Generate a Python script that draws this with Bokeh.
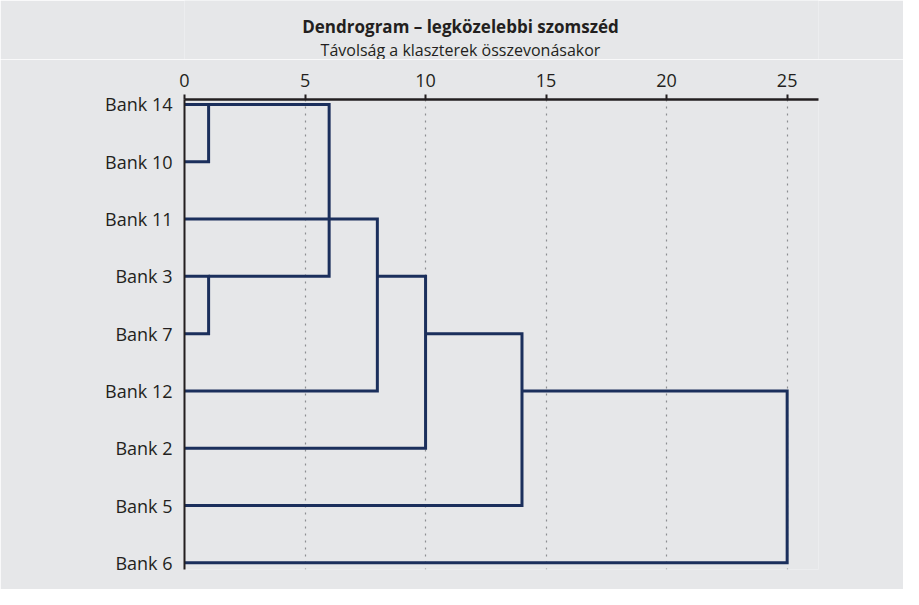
from bokeh.plotting import figure
from bokeh.models import Range1d, FixedTicker
from bokeh.layouts import column
from bokeh.core.properties import value
from bokeh.embed import file_html
from bokeh.resources import INLINE

# ---- data ----
bank_labels = ["Bank 14", "Bank 10", "Bank 11", "Bank 3", "Bank 7",
               "Bank 12", "Bank 2", "Bank 5", "Bank 6"]
distance_ticks = [0, 5, 10, 15, 20, 25]
# each merge: rows joined, merge distance, and where the horizontal arm starts
merge_top_row = [0, 3, 0, 2, 3, 4, 5]
merge_bottom_row = [1, 4, 3, 5, 6, 7, 8]
merge_distance = [1, 1, 6, 8, 10, 14, 25]
merge_top_start = [0, 0, 1, 0, 8, 10, 14]
merge_bottom_start = [0, 0, 1, 0, 0, 0, 0]
title_text = "Dendrogram – legközelebbi szomszéd"
subtitle_text = "Távolság a klaszterek összevonásakor"

FONT = "Open Sans"
BG = "#e6e7e9"
INK = "#231f20"
NAVY = "#1b2f5c"
W = 903
TOP_H = 59
LEFT = 184
RIGHT = 85

# ---- heading strip (titles); its frame lines up with the chart frame ----
h = figure(width=W, height=TOP_H, output_backend="svg", toolbar_location=None,
           x_range=Range1d(LEFT, W - RIGHT), y_range=Range1d(TOP_H, 0),
           x_axis_location=None, y_axis_location=None,
           min_border_left=LEFT, min_border_right=RIGHT,
           min_border_top=0, min_border_bottom=0)
h.background_fill_color = BG
h.border_fill_color = BG
h.outline_line_color = None
h.grid.visible = False
h.text(x=[460], y=[26], text=[title_text], text_align="center",
       text_baseline="alphabetic", text_font=value(FONT),
       text_font_style="bold", text_font_size="17px", text_color=INK)
h.text(x=[460], y=[49], text=[subtitle_text], text_align="center",
       text_baseline="alphabetic", text_font=value(FONT),
       text_font_size="16px", text_color=INK)

# ---- dendrogram ----
p = figure(width=W, height=589 - TOP_H, output_backend="svg",
           toolbar_location=None,
           x_range=Range1d(0, 26.3), y_range=Range1d(8.117, -0.087),
           x_axis_location="above",
           min_border_left=LEFT, min_border_right=RIGHT,
           min_border_top=99 - TOP_H, min_border_bottom=20)
p.background_fill_color = BG
p.border_fill_color = BG
p.outline_line_color = None

xs, ys = [], []
for rt, rb, d, ft, fb in zip(merge_top_row, merge_bottom_row, merge_distance,
                             merge_top_start, merge_bottom_start):
    xs.append([ft, d, d, fb])
    ys.append([rt, rt, rb, rb])
p.multi_line(xs, ys, line_color=NAVY, line_width=3, line_join="miter")

# x axis (top)
xa = p.xaxis[0]
xa.ticker = FixedTicker(ticks=distance_ticks)
xa.major_label_text_font = FONT
xa.major_label_text_font_size = "18px"
xa.major_label_text_color = INK
xa.axis_line_color = INK
xa.axis_line_width = 2.5
xa.major_tick_line_color = INK
xa.major_tick_line_width = 2
xa.major_tick_in = 0
xa.major_tick_out = 5
xa.minor_tick_line_color = None
xa.major_label_standoff = 8

# y axis (left)
ya = p.yaxis[0]
ya.ticker = FixedTicker(ticks=list(range(len(bank_labels))))
ya.major_label_overrides = {i: lab for i, lab in enumerate(bank_labels)}
ya.major_label_text_font = FONT
ya.major_label_text_font_size = "18px"
ya.major_label_text_color = INK
ya.axis_line_color = INK
ya.axis_line_width = 2
ya.major_tick_line_color = None
ya.major_tick_in = 0
ya.major_tick_out = 0
ya.minor_tick_line_color = None
ya.major_label_standoff = 12

p.xgrid.ticker = FixedTicker(ticks=distance_ticks[1:])
p.xgrid.grid_line_color = "#8c8e91"
p.xgrid.grid_line_dash = "2 5"
p.xgrid.grid_line_width = 1.2
p.ygrid.visible = False

layout = column(h, p, spacing=0)
open("out.html", "w").write(file_html(layout, INLINE))
